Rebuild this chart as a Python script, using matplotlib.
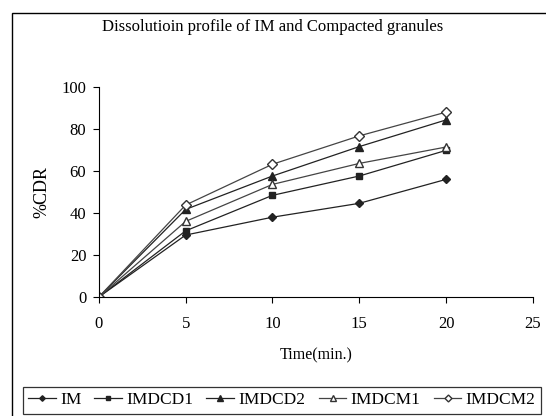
import matplotlib.pyplot as plt
from matplotlib.patches import Rectangle

plt.rcParams['font.family'] = ['Liberation Serif', 'DejaVu Serif']

# Time points (min.) and %CDR for each formulation
time = [0, 5, 10, 15, 20]
im = [0, 29.5, 38, 44.6, 56]
imdcd1 = [0, 31.5, 48.4, 57.6, 69.8]
imdcd2 = [0, 41.7, 57.6, 71.6, 84.3]
imdcm1 = [0, 36, 53.6, 63.6, 71.4]
imdcm2 = [0, 43.8, 63.2, 76.7, 88]

fig = plt.figure(figsize=(5.46, 4.16), dpi=100)
ax = fig.add_axes([0.181, 0.286, 0.795, 0.505])

ax.plot(time, im, color='#222222', lw=0.9, marker='D', ms=4, mfc='#222222', mec='#222222', label='IM')
ax.plot(time, imdcd1, color='#222222', lw=0.9, marker='s', ms=5, mfc='#222222', mec='#222222', label='IMDCD1')
ax.plot(time, imdcd2, color='#222222', lw=0.9, marker='^', ms=6, mfc='#222222', mec='#222222', label='IMDCD2')
ax.plot(time, imdcm1, color='#444444', lw=0.9, marker='^', ms=6, mfc='white', mec='#333333', label='IMDCM1')
ax.plot(time, imdcm2, color='#444444', lw=0.9, marker='D', ms=5, mfc='white', mec='#333333', label='IMDCM2')

ax.set_xlim(0, 25)
ax.set_ylim(0, 100)
ax.set_xticks([0, 5, 10, 15, 20, 25])
ax.set_yticks([0, 20, 40, 60, 80, 100])
ax.spines['top'].set_visible(False)
ax.spines['right'].set_visible(False)
ax.tick_params(direction='out', length=4, labelsize=12)
ax.tick_params(axis='x', pad=10)
ax.tick_params(axis='y', pad=5)
ax.set_xlabel('Time(min.)', fontsize=11.5, labelpad=11)
ax.set_ylabel('%CDR', fontsize=13, labelpad=8)

fig.text(0.5, 1 - 27 / 416, 'Dissolutioin profile of IM and Compacted granules',
         ha='center', va='center', fontsize=12)

leg = fig.legend(loc='upper center', bbox_to_anchor=(0.516, 1 - 387 / 416), ncol=5, fontsize=12.5,
                 frameon=True, fancybox=False, edgecolor='black', handlelength=1.6,
                 handletextpad=0.25, columnspacing=0.75, borderpad=0.3, borderaxespad=0,
                 markerscale=0.7)
leg.get_frame().set_linewidth(0.9)

# outer chart border (only top and left edges fall inside the picture)
fig.patches.append(Rectangle((12 / 546, -0.1), 1.2, 1.1 - 13 / 416, transform=fig.transFigure,
                             fill=False, edgecolor='black', lw=1.0))

fig.savefig('out.png', dpi=100)
